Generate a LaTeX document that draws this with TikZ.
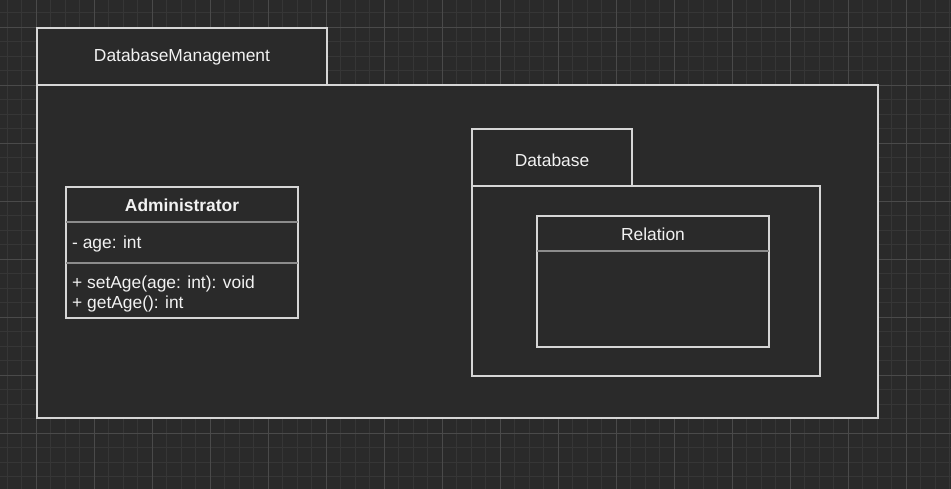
\documentclass[tikz,border=0pt]{standalone}
\usepackage{fontspec}
\setmainfont{Liberation Sans}
\definecolor{bg}{HTML}{2A2A2A}
\definecolor{gminor}{HTML}{363636}
\definecolor{gmajor}{HTML}{4A4A4A}
\definecolor{edge}{HTML}{D6D6D6}
\definecolor{divider}{HTML}{8C8C8C}
\definecolor{txt}{HTML}{F2F2F2}
\begin{document}
\begin{tikzpicture}[x=1pt,y=-1pt,
  minorline/.style={gminor,line width=1pt},
  majorline/.style={gmajor,line width=1pt},
  shapeline/.style={edge,line width=1.8pt},
  divline/.style={divider,line width=1.6pt},
  lbl/.style={text=txt,inner sep=0pt,font=\fontsize{17.4}{20}\selectfont},
]
\useasboundingbox (0,0) rectangle (951,489);
\fill[bg] (0,0) rectangle (951,489);
% grid
\foreach \i in {0,...,65} {
  \draw[minorline] ({7.3+14.5*\i},0) -- ({7.3+14.5*\i},489);
}
\foreach \j in {0,...,33} {
  \draw[minorline] (0,{12.8+14.5*\j}) -- (951,{12.8+14.5*\j});
}
\foreach \i in {0,...,16} {
  \draw[majorline] ({36.3+58*\i},0) -- ({36.3+58*\i},489);
}
\foreach \j in {0,...,8} {
  \draw[majorline] (0,{27.3+58*\j}) -- (951,{27.3+58*\j});
}
% outer package
\fill[bg] (37,28) rectangle (327,85);
\fill[bg] (37,85) rectangle (878,418);
\draw[shapeline] (37,85) -- (37,28) -- (327,28) -- (327,85);
\draw[shapeline] (37,85) rectangle (878,418);
\node[lbl] (dbm) at (182,57.5) {DatabaseManagement};
% Administrator class
\draw[shapeline] (66,187) rectangle (298,318);
\draw[divline] (66,222) -- (298,222);
\draw[divline] (66,263) -- (298,263);
\node[lbl,font=\fontsize{17.4}{20}\selectfont\bfseries] (admin) at (182,205) {Administrator};
\node[lbl,anchor=west] (age) at (72,244) {- age: int};
\node[lbl,anchor=west] (setage) at (72,284.5) {+ setAge(age: int): void};
\node[lbl,anchor=west] (getage) at (72,304.5) {+ getAge(): int};
% Database package
\draw[shapeline] (472,186) -- (472,129) -- (632,129) -- (632,186);
\draw[shapeline] (472,186) rectangle (820,376);
\node[lbl] (db) at (552,160) {Database};
% Relation class
\draw[shapeline] (537,216) rectangle (769,347);
\draw[divline] (537,251) -- (769,251);
\node[lbl] (rel) at (653,234) {Relation};
\end{tikzpicture}
\end{document}
